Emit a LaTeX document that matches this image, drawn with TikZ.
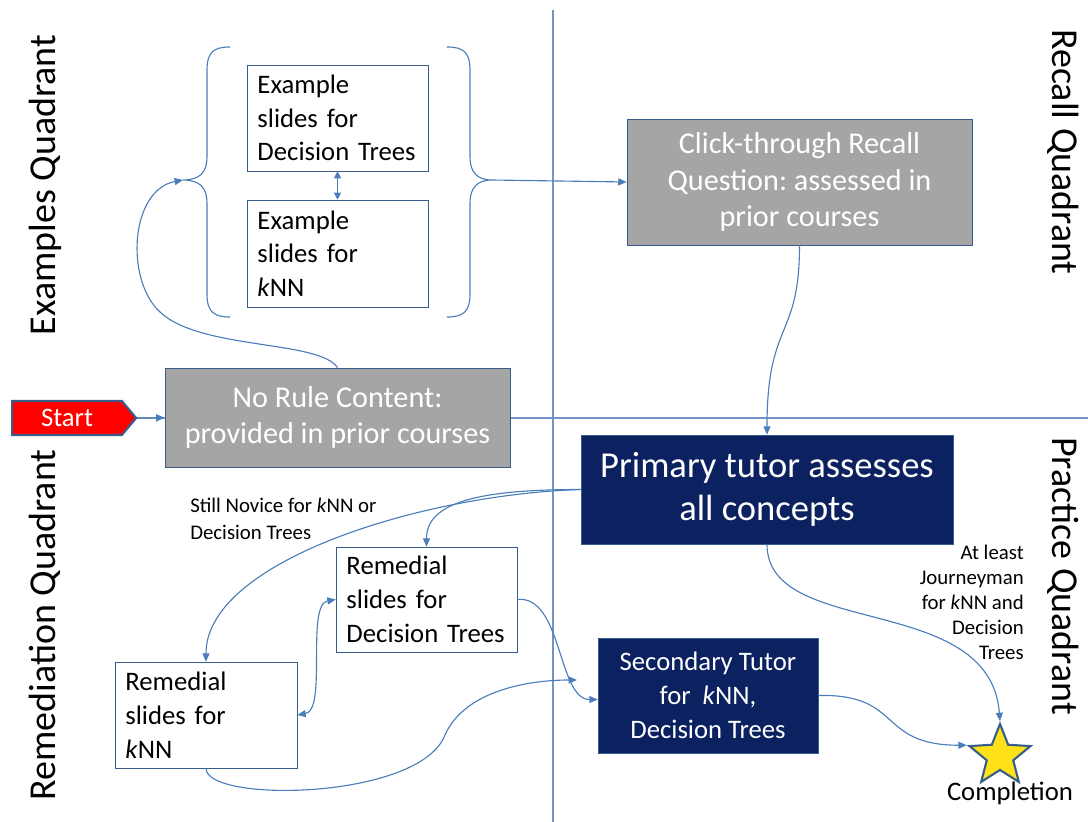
\documentclass[tikz,border=0pt]{standalone}
\usepackage{fontspec}
\setmainfont{Carlito}
\usepackage{tikz}
\usetikzlibrary{arrows.meta,shapes.geometric,shapes.symbols}

\definecolor{flowline}{HTML}{4A7EBB}
\definecolor{quadline}{HTML}{7393C4}
\definecolor{boxline}{HTML}{385D8A}
\definecolor{grayfill}{HTML}{A5A5A5}
\definecolor{navy}{HTML}{0C2160}
\definecolor{starfill}{HTML}{FFE119}

\tikzset{
  slidebox/.style={draw=boxline, fill=white, align=left, text width=4.0cm, inner xsep=0.26cm,
    minimum height=2.65cm, font=\fontsize{19}{24}\selectfont},
  graybox/.style={draw=boxline, fill=grayfill, text=white, align=center,
    font=\fontsize{21.5}{26}\selectfont},
  tutorbox/.style={draw=boxline, fill=navy, text=white, align=center},
  flow/.style={draw=flowline, line width=0.8pt, -{Triangle[length=6pt,width=5pt]}},
  brace/.style={draw=flowline, line width=0.8pt},
  quadlabel/.style={font=\fontsize{27}{30}\selectfont},
  smalllabel/.style={font=\fontsize{14.8}{19}\selectfont, inner sep=0pt}
}
\newcommand{\knn}{\textit{k}NN}
\frenchspacing

\begin{document}
\begin{tikzpicture}[x=0.025cm, y=-0.025cm]
    \useasboundingbox (0,0) rectangle (1088,822);
    % Quadrant lines
    \draw[quadline, line width=0.8pt] (553,10) -- (553,822);
    \draw[quadline, line width=0.8pt] (130,418) -- (1088,418);

    % Quadrant labels
    \node[quadlabel, rotate=90] (qex) at (45,185) {Examples Quadrant};
    \node[quadlabel, rotate=90] (qrem) at (45,625) {Remediation Quadrant};
    \node[quadlabel, rotate=-90] (qrec) at (1063,152) {Recall Quadrant};
    \node[quadlabel, rotate=-90] (qpra) at (1063,576) {Practice Quadrant};

    % Start and no rule content
    \node[signal, signal to=east, signal pointer angle=100, draw=boxline, line width=1.5pt, fill=red,
      text=white, minimum width=3.1cm, minimum height=0.85cm, inner sep=0pt,
      font=\fontsize{19}{22}\selectfont] (start) at (67,418) {Start};
    \node[graybox, minimum width=8.625cm, minimum height=2.475cm] (norule) at (337.5,417.5)
      {No Rule Content:\\provided in prior courses};

    % Example slides
    \node[slidebox] (exdt) at (337.5,118) {Example\\slides for\\Decision Trees};
    \node[slidebox, minimum height=2.675cm] (exknn) at (337.5,253.5) {Example\\slides for\\\knn};
    \draw[flowline, line width=0.8pt, {Triangle[length=5pt,width=5pt]}-{Triangle[length=5pt,width=5pt]}]
      (exdt) -- (exknn);

    % Braces round the examples
    \coordinate (lb) at (183,180);
    \coordinate (rb) at (492,180);
    \draw[brace] (230,47) .. controls (214,47) and (207,52) .. (207,70) -- (207,157)
      .. controls (207,172) and (200,180) .. (lb) .. controls (200,180) and (207,188) .. (207,203)
      -- (207,294) .. controls (207,312) and (214,317) .. (230,317);
    \draw[brace] (447,47) .. controls (463,47) and (470,52) .. (470,70) -- (470,157)
      .. controls (470,172) and (477,180) .. (rb) .. controls (477,180) and (470,188) .. (470,203)
      -- (470,294) .. controls (470,312) and (463,317) .. (447,317);

    % Recall
    \node[graybox, minimum width=8.625cm, minimum height=3.15cm] (recall) at (799.5,182)
      {Click-through Recall\\Question: assessed in\\prior courses};

    % Tutors
    \node[tutorbox, minimum width=9.3cm, minimum height=2.725cm, font=\fontsize{26}{30.5}\selectfont]
      (primary) at (767,489.5) {Primary tutor assesses\\all concepts};
    \node[tutorbox, minimum width=5.5cm, minimum height=2.875cm, font=\fontsize{19}{24}\selectfont]
      (second) at (708,695.5) {Secondary Tutor\\for \ \knn,\\Decision Trees};

    % Remedial slides
    \node[slidebox, minimum height=2.625cm] (remdt) at (426.5,599.5) {Remedial\\slides for\\Decision Trees};
    \node[slidebox, text width=4.03cm] (remknn) at (206,715) {Remedial\\slides for\\\knn};

    % Completion
    \node[star, star points=5, star point ratio=2.3, minimum size=1.6cm, inner sep=0pt,
      draw=boxline, line width=1.5pt, fill=starfill] (done) at (1000,756) {};
    \node[font=\fontsize{19}{22}\selectfont] (donelabel) at (1010,793) {Completion};

    % Labels on the branches
    \node[smalllabel, align=left, anchor=north west] (novice) at (190,498)
      {Still Novice for \knn{} or\\Decision Trees};
    \node[smalllabel, align=right, anchor=north east, font=\fontsize{14.8}{17.7}\selectfont]
      (journey) at (1024,545) {At least\\Journeyman\\for \knn{} and\\Decision\\Trees};

    % Connectors
    \draw[flow] (start) -- (norule);
    \draw[flow] (norule.north) .. controls (320,340) and (200,350) .. (160,312)
      .. controls (125,280) and (130,190) .. (lb);
    \draw[flow] (rb) -- (recall.west);
    \draw[flow] (recall.south) .. controls +(0,95) and +(0,-115) .. (primary.north);
    \draw[flow] (primary.west) .. controls +(-100,0) and +(0,-45) .. (remdt.north);
    \draw[flow] (primary.west) .. controls +(-160,5) and +(0,-100) .. (remknn.north);
    \draw[flowline, line width=0.8pt, {Triangle[length=6pt,width=5pt]}-{Triangle[length=6pt,width=5pt]}]
      (remknn.east) .. controls +(30,-5) and +(-30,5) .. (remdt.west);
    \draw[flow] (remdt.east) .. controls +(45,-5) and +(-40,0) .. ([yshift=-0.1cm]second.west);
    \coordinate (secin) at (577,680);
    \draw[flow] (remknn.south) .. controls +(0,35) and (420,800) .. (445,735)
      .. controls (465,690) and (530,680) .. (secin);
    \draw[flow] (second.east) .. controls +(85,-2) and +(-90,0) .. (done.outer point 2);
    \draw[flow] (primary.south) .. controls +(0,95) and +(-10,-130) .. (done.outer point 1);
\end{tikzpicture}
\end{document}
